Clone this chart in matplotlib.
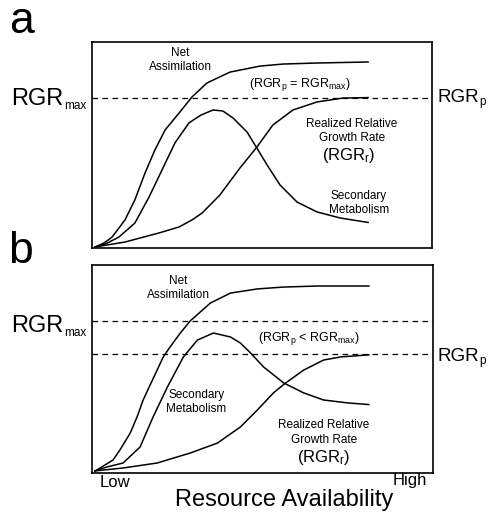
import numpy as np
import matplotlib
matplotlib.use("Agg")
import matplotlib.pyplot as plt

plt.rcParams['font.family'] = ['Liberation Sans', 'DejaVu Sans']
plt.rcParams['mathtext.fontset'] = 'custom'
plt.rcParams['mathtext.rm'] = 'Liberation Sans'
plt.rcParams['mathtext.default'] = 'regular'

# panel a: RGRp equals RGRmax
x_net_a = [0.9, 3.5, 5.9, 9.7, 12.6, 15.6, 18.5, 21.5, 25.6, 29.4, 33.8, 40.6, 49.4, 56.2, 66.2, 81.2]
y_net_a = [0.5, 2.4, 5.3, 13.6, 23.3, 36.4, 47.6, 57.3, 65.5, 73.3, 80.1, 85.4, 88.3, 89.3, 89.8, 90.3]
x_sec_a = [0.9, 4.0, 7.9, 12.6, 16.8, 20.6, 24.4, 28.5, 32.0, 35.6, 38.5, 41.5, 45.6, 48.5, 51.5, 55.3, 60.3, 66.2, 72.9, 81.2]
y_sec_a = [0.5, 2.0, 5.3, 12.1, 24.8, 37.9, 51.0, 60.7, 64.5, 67.0, 66.5, 63.1, 56.3, 48.5, 40.3, 30.6, 22.3, 17.5, 14.6, 12.4]
x_rgr_a = [0.9, 9.7, 19.7, 25.6, 29.4, 32.4, 37.6, 43.5, 48.5, 53.2, 59.1, 66.2, 73.8, 81.2]
y_rgr_a = [0.5, 2.9, 7.3, 10.2, 13.6, 17.0, 25.7, 38.8, 49.0, 59.7, 67.0, 70.9, 72.8, 73.0]
rgr_max_a = 73.0

# panel b: RGRp below RGRmax
x_net_b = [0.9, 2.4, 6.2, 8.2, 11.2, 13.2, 15.0, 17.1, 19.1, 20.9, 22.9, 25.9, 28.8, 34.7, 40.6, 48.5, 56.2, 66.2, 81.2]
y_net_b = [1.0, 2.4, 6.3, 11.1, 19.2, 26.9, 35.1, 42.5, 49.5, 55.8, 60.6, 67.3, 73.1, 81.7, 86.5, 88.5, 89.4, 89.9, 89.9]
x_sec_b = [0.9, 4.4, 9.1, 14.1, 17.9, 22.1, 26.8, 30.9, 35.6, 40.6, 43.5, 46.5, 50.3, 56.2, 62.1, 67.9, 75.0, 81.2]
y_sec_b = [1.0, 2.9, 4.8, 12.5, 26.9, 41.3, 55.8, 63.9, 67.3, 65.4, 62.5, 57.7, 51.0, 43.3, 38.5, 35.1, 33.7, 32.9]
x_rgr_b = [0.9, 9.1, 19.1, 28.8, 36.8, 43.5, 48.5, 53.2, 56.8, 62.1, 67.9, 72.9, 81.2]
y_rgr_b = [1.0, 2.4, 4.8, 9.6, 14.4, 22.1, 30.3, 38.5, 43.3, 49.5, 54.3, 55.8, 56.8]
rgr_max_b = 73.1
rgr_p_b = 57.2

fig = plt.figure(figsize=(4.96, 5.13), dpi=100)
ax_a = fig.add_axes([92/496, 1-248/513, 340/496, 206/513])
ax_b = fig.add_axes([92/496, 1-473/513, 341/496, 208/513])

lw = 1.1
dash = (0, (4.5, 3.5))
small = 8.5
for ax in (ax_a, ax_b):
    ax.set_xlim(0, 100)
    ax.set_ylim(0, 100)
    ax.set_xticks([])
    ax.set_yticks([])
    for s in ax.spines.values():
        s.set_linewidth(1.2)


def rgr_label(ax, x, y, sub, size, subsize):
    # big "RGR" with a small subscript right after it
    t = ax.text(x, y, 'RGR', ha='left', va='baseline', fontsize=size, clip_on=False)
    ax.annotate(sub, xy=(1, 0), xycoords=t, xytext=(0.5, -1.5), textcoords='offset points',
                ha='left', va='bottom', fontsize=subsize, annotation_clip=False)


# panel a
ax_a.plot(x_net_a, y_net_a, color='black', lw=lw)
ax_a.plot(x_sec_a, y_sec_a, color='black', lw=lw)
ax_a.plot(x_rgr_a, y_rgr_a, color='black', lw=lw)
ax_a.axhline(rgr_max_a, color='black', lw=0.9, linestyle=dash)

ax_a.text(25.9, 91.3, 'Net\nAssimilation', ha='center', va='center', fontsize=small, linespacing=1.25)
ax_a.text(61.2, 79.6, r'(RGR$_\mathregular{p}$ = RGR$_\mathregular{max}$)', ha='center', va='center', fontsize=9)
ax_a.text(76.5, 56.8, 'Realized Relative\nGrowth Rate', ha='center', va='center', fontsize=small, linespacing=1.25)
ax_a.text(75.6, 45.1, r'(RGR$_\mathregular{r}$)', ha='center', va='center', fontsize=12)
ax_a.text(78.5, 22.0, 'Secondary\nMetabolism', ha='center', va='center', fontsize=small, linespacing=1.25)
rgr_label(ax_a, -23.8, 69.4, 'max', 17, 8.5)
rgr_label(ax_a, 101.6, 71.0, 'p', 13.5, 8.5)
ax_a.text(-24.5, 104.5, 'a', ha='left', va='baseline', fontsize=32, clip_on=False)

# panel b
ax_b.plot(x_net_b, y_net_b, color='black', lw=lw)
ax_b.plot(x_sec_b, y_sec_b, color='black', lw=lw)
ax_b.plot(x_rgr_b, y_rgr_b, color='black', lw=lw)
ax_b.axhline(rgr_max_b, color='black', lw=0.9, linestyle=dash)
ax_b.axhline(rgr_p_b, color='black', lw=0.9, linestyle=dash)

ax_b.text(25.3, 88.9, 'Net\nAssimilation', ha='center', va='center', fontsize=small, linespacing=1.25)
ax_b.text(63.5, 64.9, r'(RGR$_\mathregular{p}$ < RGR$_\mathregular{max}$)', ha='center', va='center', fontsize=9)
ax_b.text(30.6, 34.1, 'Secondary\nMetabolism', ha='center', va='center', fontsize=small, linespacing=1.25)
ax_b.text(68.0, 19.5, 'Realized Relative\nGrowth Rate', ha='center', va='center', fontsize=small, linespacing=1.25)
ax_b.text(68.0, 7.5, r'(RGR$_\mathregular{r}$)', ha='center', va='center', fontsize=12)
rgr_label(ax_b, -23.8, 67.8, 'max', 17, 8.5)
rgr_label(ax_b, 101.3, 53.8, 'p', 13.5, 8.5)
ax_b.text(-24.5, 101.0, 'b', ha='left', va='baseline', fontsize=32, clip_on=False)

ax_b.text(6.8, -4.8, 'Low', ha='center', va='center', fontsize=12, clip_on=False)
ax_b.text(93.2, -3.4, 'High', ha='center', va='center', fontsize=12, clip_on=False)
ax_b.text(56.5, -13.0, 'Resource Availability', ha='center', va='center', fontsize=17, clip_on=False)

fig.savefig('out.png', dpi=100)
